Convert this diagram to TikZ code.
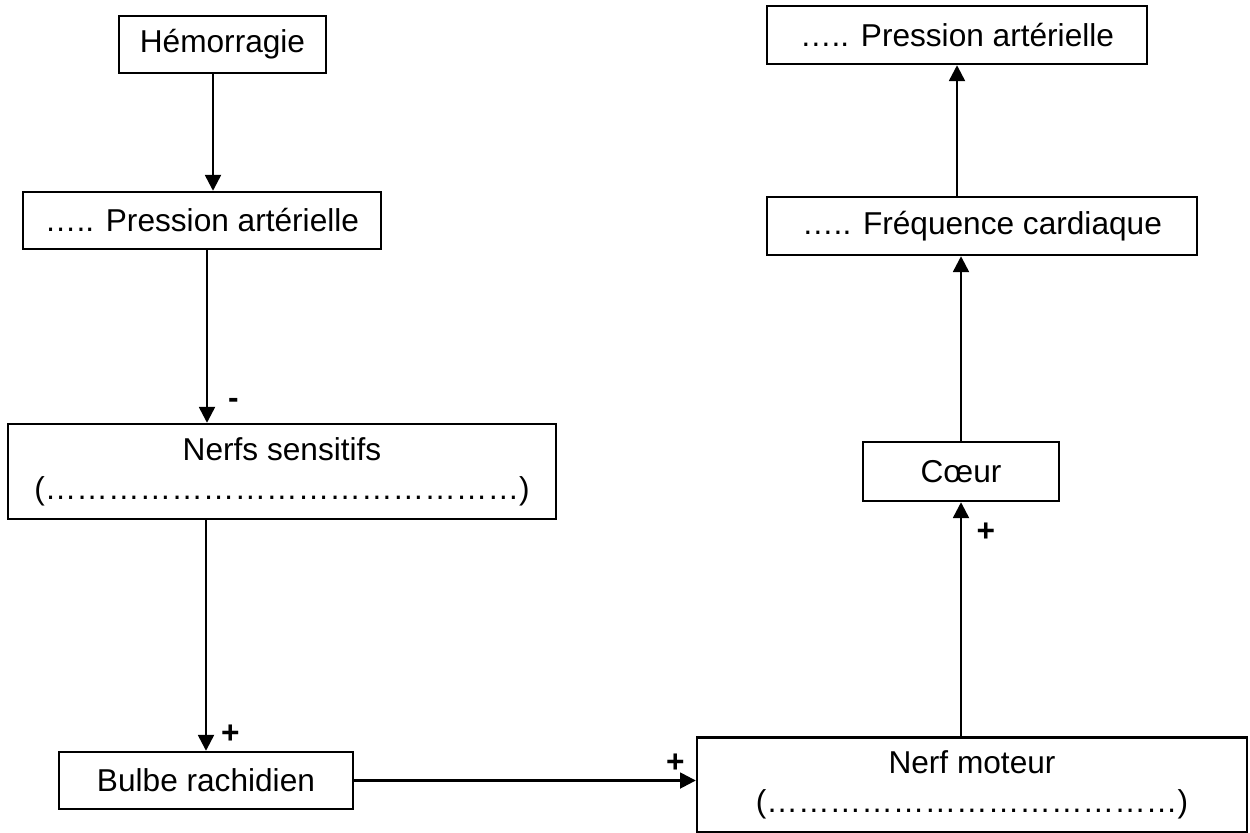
\documentclass[tikz,border=0pt]{standalone}
\usepackage{fontspec}
\setmainfont{Liberation Sans}
\usetikzlibrary{positioning,arrows.meta}
\tikzset{
	>={Triangle[length=9pt,width=9pt]}
}
\newcommand{\blankrow}[1]{(\foreach \k in {1,...,#1}{\char"2026})}

\begin{document}
\begin{tikzpicture}[
x = 0.02cm, y = -0.02cm,
line width = 1.4pt,
every node/.style = {
	font = \fontsize{18}{22}\selectfont
},
box/.style = {
	draw,
	inner sep = 0pt,
	align = center,
	minimum height = 1.14cm
},
tall/.style = {
	minimum height = 1.9cm
},
sign/.style = {
	font = \fontsize{18}{22}\selectfont\bfseries,
	inner sep = 0pt
}
]
\useasboundingbox (0,0) rectangle (1250,832);

\node[box, minimum width=4.14cm]			(hemo)		at (222.5,44.5)	{Hémorragie};
\node[box, minimum width=7.16cm]			(pal)		at (202,220.5)	{….. Pression artérielle};
\node[box, tall, minimum width=10.96cm]		(nerfs)		at (282,471.5)	{Nerfs sensitifs\\\blankrow{15}};
\node[box, minimum width=5.88cm]			(bulbe)		at (206,780.5)	{Bulbe rachidien};

\node[box, tall, minimum width=11cm]		(moteur)	at (972,785)	{Nerf moteur\\\blankrow{13}};
\node[box, minimum width=3.92cm, minimum height=1.18cm]	(coeur)	at (961,471.5)	{Cœur};
\node[box, minimum width=8.6cm, minimum height=1.16cm]	(freq)	at (982,226)	{….. Fréquence cardiaque};
\node[box, minimum width=7.6cm, minimum height=1.16cm]	(par)	at (957,35)		{….. Pression artérielle};

\draw[->] ([xshift=-0.19cm]hemo.south) -- ([xshift=-0.19cm]hemo.south |- pal.north);
\draw[->] ([xshift=0.1cm]pal.south) -- node[sign, pos=0.89, right=0.4cm] {-} ([xshift=0.1cm]pal.south |- nerfs.north);
\draw[->] (bulbe.north |- nerfs.south) -- node[sign, pos=0.93, right=0.28cm] {+} (bulbe.north);
\draw[->] (bulbe.east) -- node[sign, pos=0.94, above=1.4mm] {+} (bulbe.east -| moteur.west);
\draw[->] (coeur.south |- moteur.north) -- node[sign, pos=0.87, right=0.29cm] {+} (coeur.south);
\draw[->] (coeur.north) -- (coeur.north |- freq.south);
\draw[->] (par.south |- freq.north) -- (par.south);
\end{tikzpicture}
\end{document}
